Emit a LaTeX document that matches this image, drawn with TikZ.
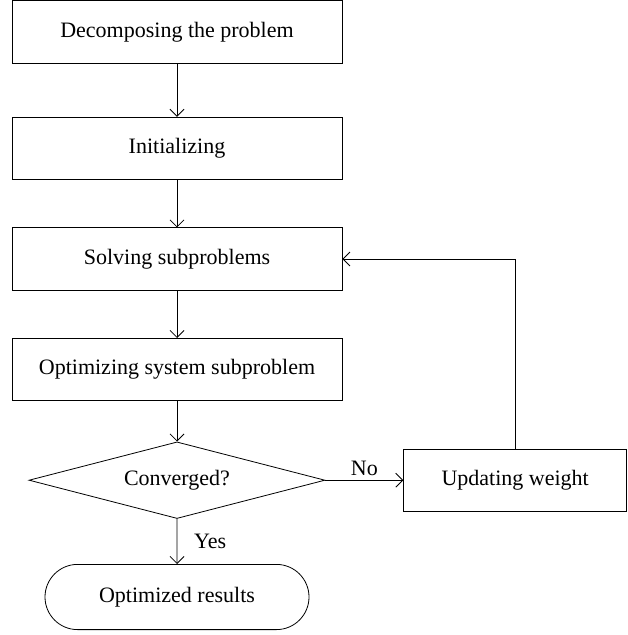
\documentclass[tikz,border=0pt]{standalone}
\usepackage{fontspec}
\setmainfont{Liberation Serif}
\usetikzlibrary{shapes.geometric, shapes.misc, positioning, arrows.meta}
\tikzset{
	->,
	node distance=55.3pt,
	>={Straight Barb[length=3.5pt,width=7pt]},
	line width=0.5pt,
	every node/.style={font=\fontsize{11}{13}\selectfont},
	block/.style={draw, rectangle, minimum width=165pt, minimum height=31.2pt, inner sep=0pt},
	decision/.style={draw, diamond, aspect=3.9, minimum width=148pt, minimum height=38.3pt, inner sep=0pt},
	terminal/.style={draw, rounded rectangle, minimum width=132pt, minimum height=32.6pt, inner sep=0pt}}

\begin{document}
\begin{tikzpicture}
		\useasboundingbox (0,0) rectangle (313.5pt,-317.5pt);
		\node[block] (s1) at (88.5pt,-16pt) {Decomposing the problem};
		\node[block, below of=s1, node distance=58.2pt] (s2) {Initializing};
		\node[block, below of=s2] (s3) {Solving subproblems};
		\node[block, below of=s3] (s4) {Optimizing system subproblem};
		\node[decision, below of=s4] (dec) {Converged?};
		\node[block, right of=dec, node distance=169.1pt, minimum width=111.5pt] (upd) {Updating weight};
		\node[terminal, below of=dec, node distance=58.4pt] (res) {Optimized results};

		\draw
		(s1) edge (s2)
		(s2) edge (s3)
		(s3) edge (s4)
		(s4) edge (dec)
		(dec) edge node[above, inner sep=2pt] {No} (upd)
		(dec) edge node[right=5pt] {Yes} (res)
		;
		\draw (upd) |- (s3);
	\end{tikzpicture}
\end{document}
